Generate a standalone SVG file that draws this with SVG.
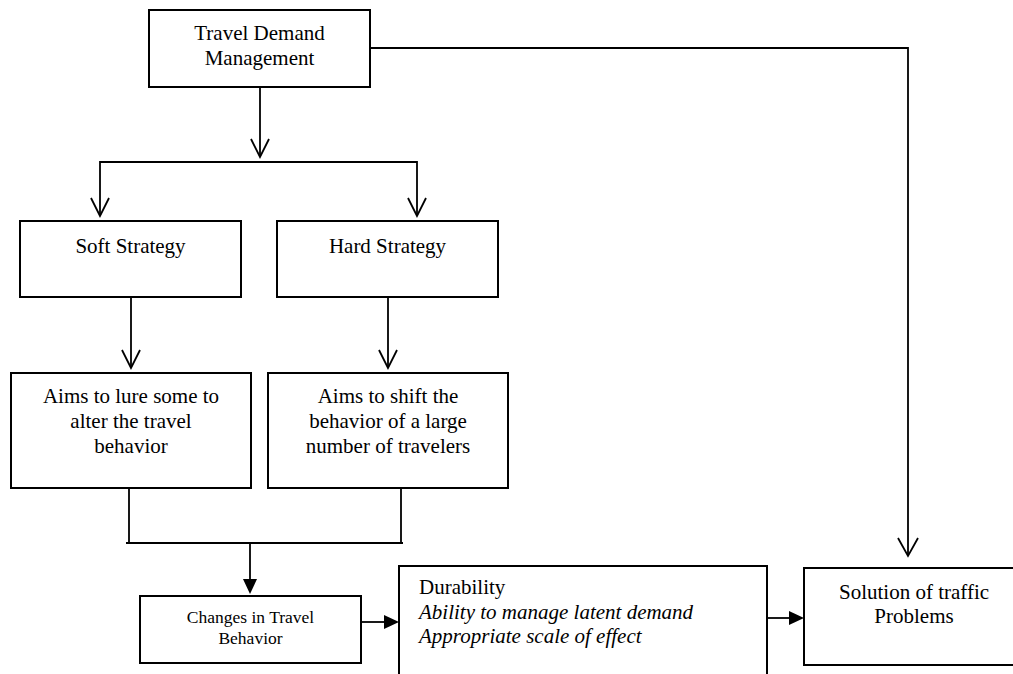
<svg xmlns="http://www.w3.org/2000/svg" width="1013" height="674" viewBox="0 0 1013 674">
<style>
.box{fill:#fff;stroke:#000;stroke-width:2}
.t{font-family:"Liberation Serif","Times New Roman",serif;font-size:21px;fill:#000;text-anchor:middle}
.ts{font-family:"Liberation Serif","Times New Roman",serif;font-size:17.5px;fill:#000;text-anchor:middle}
.tl{font-family:"Liberation Serif","Times New Roman",serif;font-size:21px;fill:#000}
.i{font-style:italic}
.c{fill:none;stroke:#000;stroke-width:1.8}
.oh{fill:none;stroke:#000;stroke-width:1.8}
.fh{fill:#000;stroke:none}
</style>
<rect width="1013" height="674" fill="#fff"/>
<g id="connectors">
  <path class="c" d="M260,87 V156"/>
  <path class="oh" d="M251,139 L260,157 L269,139"/>
  <path class="c" d="M100,215 V162 H417 V215"/>
  <path class="oh" d="M91,198 L100,216 L109,198"/>
  <path class="oh" d="M408,198 L417,216 L426,198"/>
  <path class="c" d="M131,297 V367"/>
  <path class="oh" d="M122,350 L131,368 L140,350"/>
  <path class="c" d="M388,297 V367"/>
  <path class="oh" d="M379,350 L388,368 L397,350"/>
  <path class="c" d="M129,488 V543 M401,488 V543 M126,543 H403"/>
  <path class="c" d="M250,543 V580"/>
  <polygon class="fh" points="243,579 257,579 250,594"/>
  <path class="c" d="M361,622 H385"/>
  <polygon class="fh" points="384,615 384,629 399,622"/>
  <path class="c" d="M766,618 H790"/>
  <polygon class="fh" points="789,611 789,625 804,618"/>
  <path class="c" d="M370,48 H908 V555"/>
  <path class="oh" d="M898,538 L908,556 L918,538"/>
</g>
<g id="tdm">
  <rect class="box" x="149" y="10" width="221" height="77"/>
  <text class="t" x="259.5" y="40">Travel Demand</text>
  <text class="t" x="259.5" y="65">Management</text>
</g>
<g id="soft">
  <rect class="box" x="20" y="221" width="221" height="76"/>
  <text class="t" x="130.5" y="253">Soft Strategy</text>
</g>
<g id="hard">
  <rect class="box" x="277" y="221" width="221" height="76"/>
  <text class="t" x="387.5" y="253">Hard Strategy</text>
</g>
<g id="soft-aim">
  <rect class="box" x="11" y="373" width="240" height="115"/>
  <text class="t" x="131" y="403">Aims to lure some to</text>
  <text class="t" x="131" y="428">alter the travel</text>
  <text class="t" x="131" y="453">behavior</text>
</g>
<g id="hard-aim">
  <rect class="box" x="268" y="373" width="240" height="115"/>
  <text class="t" x="388" y="403">Aims to shift the</text>
  <text class="t" x="388" y="428">behavior of a large</text>
  <text class="t" x="388" y="453">number of travelers</text>
</g>
<g id="changes">
  <rect class="box" x="140" y="596" width="221" height="67"/>
  <text class="ts" x="250.5" y="623">Changes in Travel</text>
  <text class="ts" x="250.5" y="644">Behavior</text>
</g>
<g id="durability">
  <rect class="box" x="399" y="566" width="368" height="130"/>
  <text class="tl" x="419" y="594">Durability</text>
  <text class="tl i" x="419" y="619">Ability to manage latent demand</text>
  <text class="tl i" x="419" y="643">Appropriate scale of effect</text>
</g>
<g id="solution">
  <rect class="box" x="804" y="568" width="220" height="97"/>
  <text class="t" x="914" y="599">Solution of traffic</text>
  <text class="t" x="914" y="623">Problems</text>
</g>
</svg>
